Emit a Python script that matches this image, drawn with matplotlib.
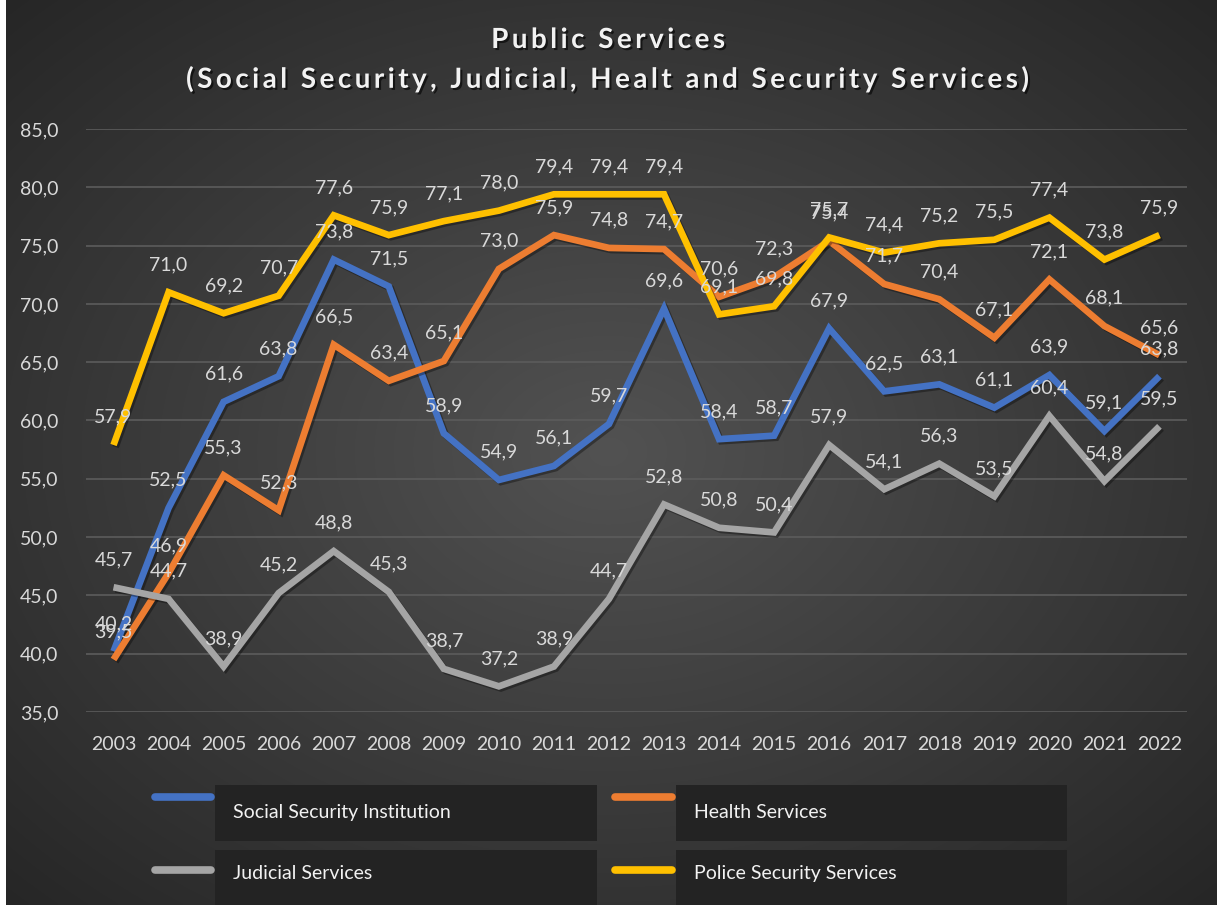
import numpy as np
import matplotlib
matplotlib.use("Agg")
import matplotlib.pyplot as plt
import matplotlib.patheffects as pe
from matplotlib.patches import Rectangle
from matplotlib.lines import Line2D

# Survey satisfaction (%) by year
years = [str(y) for y in range(2003, 2023)]
social_security = [40.2, 52.5, 61.6, 63.8, 73.8, 71.5, 58.9, 54.9, 56.1, 59.7,
                   69.6, 58.4, 58.7, 67.9, 62.5, 63.1, 61.1, 63.9, 59.1, 63.8]
health = [39.5, 46.9, 55.3, 52.3, 66.5, 63.4, 65.1, 73.0, 75.9, 74.8,
          74.7, 70.6, 72.3, 75.4, 71.7, 70.4, 67.1, 72.1, 68.1, 65.6]
judicial = [45.7, 44.7, 38.9, 45.2, 48.8, 45.3, 38.7, 37.2, 38.9, 44.7,
            52.8, 50.8, 50.4, 57.9, 54.1, 56.3, 53.5, 60.4, 54.8, 59.5]
police = [57.9, 71.0, 69.2, 70.7, 77.6, 75.9, 77.1, 78.0, 79.4, 79.4,
          79.4, 69.1, 69.8, 75.7, 74.4, 75.2, 75.5, 77.4, 73.8, 75.9]

series_names = ["Social Security Institution", "Health Services",
                "Judicial Services", "Police Security Services"]
series_values = [social_security, health, judicial, police]
series_colors = ["#4472C4", "#ED7D31", "#A5A5A5", "#FFC000"]

title_lines = ["Public Services",
               "(Social Security, Judicial, Healt and Security Services)"]

plt.rcParams['font.family'] = ['Lato', 'DejaVu Sans']
text_color = "#D9D9D9"

W, H = 1217, 905
fig = plt.figure(figsize=(W / 100, H / 100), dpi=100)

# radial gradient background
bg = fig.add_axes([0, 0, 1, 1], zorder=-10)
gx, gy = np.meshgrid(np.linspace(-1, 1, 400), np.linspace(-1, 1, 300))
r = np.clip(np.sqrt(gx ** 2 + gy ** 2) / np.sqrt(2), 0, 1)
c_in = np.array([0x52, 0x52, 0x52]) / 255
c_out = np.array([0x26, 0x26, 0x26]) / 255
img = c_in[None, None, :] * (1 - r[..., None]) + c_out[None, None, :] * r[..., None]
bg.imshow(img, aspect='auto', extent=[0, 1, 0, 1], interpolation='bilinear')
bg.set_xlim(0, 1)
bg.set_ylim(0, 1)
bg.axis('off')
# white screenshot edge on the left
bg.add_patch(Rectangle((0, 0), 6 / W, 1, color='white', lw=0))

ax = fig.add_axes([86 / W, 1 - 712 / H, 1101 / W, 583 / H])
ax.set_facecolor('none')
x = np.arange(len(years))

shadow = [pe.SimpleLineShadow(offset=(1.5, -1.5), shadow_color='black', alpha=0.35),
          pe.Normal()]
for vals, col in zip(series_values, series_colors):
    ax.plot(x, vals, color=col, lw=4.8, solid_joinstyle='miter',
            solid_capstyle='butt', path_effects=shadow, zorder=3)

for vals in series_values:
    for xi, v in zip(x, vals):
        ax.annotate(f"{v:.1f}".replace('.', ','), (xi, v), xytext=(0, 16),
                    textcoords='offset points', ha='center', va='baseline',
                    fontsize=14, color=text_color, zorder=5)

ax.set_xlim(-0.5, len(years) - 0.5)
ax.set_ylim(35, 85)
ax.set_yticks(np.arange(35, 86, 5))
ax.set_yticklabels([f"{t:.1f}".replace('.', ',') for t in np.arange(35, 86, 5)])
ax.set_xticks(x)
ax.set_xticklabels(years)
ax.tick_params(axis='both', length=0, labelsize=14, labelcolor=text_color)
ax.tick_params(axis='y', pad=20)
ax.tick_params(axis='x', pad=17)
ax.grid(axis='y', color='#5C5C5C', lw=1.2)
ax.set_axisbelow(True)
for s in ax.spines.values():
    s.set_visible(False)

# title with loose letter spacing (thin spaces between characters)
title_fx = [pe.SimplePatchShadow(offset=(1.5, -1.5), shadow_rgbFace='black', alpha=0.6),
            pe.Normal()]
for line, ypx in zip(title_lines, [40, 79]):
    fig.text(0.5, 1 - ypx / H, "\u2009".join(line), ha='center', va='center',
             fontsize=20, fontweight='bold', color='#F2F2F2',
             path_effects=title_fx)

# legend drawn by hand: handle line + dark label box
legend_cols = [(155, 211, 215, 597, 233), (615, 672, 676, 1067, 694)]
legend_rows = [(797, 785, 841, 812), (870, 850, 905, 873)]
for i, (name, col) in enumerate(zip(series_names, series_colors)):
    hx0, hx1, bx0, bx1, tx = legend_cols[i % 2]
    hy, by0, by1, ty = legend_rows[i // 2]
    fig.add_artist(Rectangle((bx0 / W, 1 - by1 / H), (bx1 - bx0) / W,
                             (by1 - by0) / H, transform=fig.transFigure,
                             color='#232323', lw=0))
    fig.add_artist(Line2D([hx0 / W, hx1 / W], [1 - hy / H, 1 - hy / H],
                          transform=fig.transFigure, color=col, lw=5.5,
                          solid_capstyle='round'))
    fig.text(tx / W, 1 - ty / H, name, ha='left', va='center', fontsize=14,
             color='#F2F2F2')

fig.savefig("out.png", dpi=100)
